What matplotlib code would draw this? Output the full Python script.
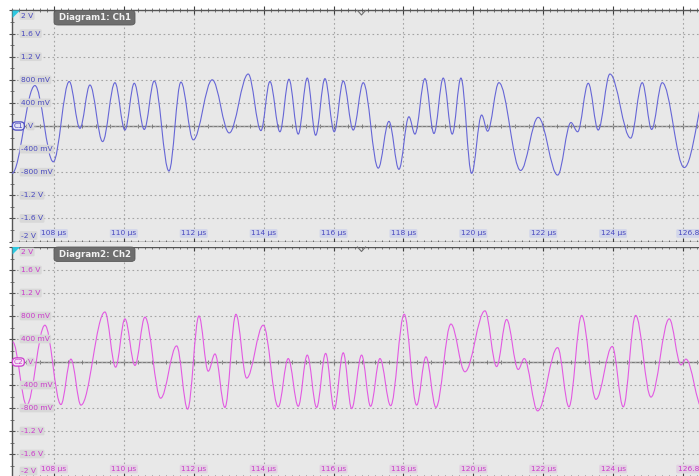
import matplotlib
matplotlib.use("Agg")
import matplotlib.pyplot as plt
from matplotlib.path import Path
from matplotlib.patches import PathPatch, Polygon, FancyBboxPatch, Rectangle
from matplotlib.ticker import MultipleLocator

# ---------------- data ----------------
# Channel 1: extrema of the waveform (time in µs, voltage in V)
ch1_t = [106.80, 107.456, 107.98, 108.438, 108.744, 109.030, 109.393, 109.745, 110.031,
         110.298, 110.584, 110.870, 111.290, 111.634, 111.986, 112.529, 113.016, 113.559,
         113.923, 114.180, 114.466, 114.724, 114.990, 115.248, 115.488, 115.754, 116.020,
         116.278, 116.564, 116.850, 117.279, 117.585, 117.871, 118.157, 118.329, 118.615,
         118.873, 119.139, 119.396, 119.645, 119.951, 120.237, 120.409, 120.732, 121.353,
         121.857, 122.412, 122.793, 122.984, 123.288, 123.573, 123.908, 124.501, 124.833,
         125.102, 125.405, 126.034, 126.75]
ch1_v = [-0.82, 0.70, -0.62, 0.77, -0.04, 0.71, -0.27, 0.75, -0.07,
         0.74, -0.06, 0.78, -0.78, 0.76, -0.24, 0.80, -0.12, 0.90,
         -0.08, 0.77, -0.10, 0.81, -0.14, 0.83, -0.16, 0.82, -0.10,
         0.78, -0.07, 0.75, -0.73, 0.08, -0.75, 0.16, -0.14, 0.82,
         -0.13, 0.83, -0.14, 0.83, -0.82, 0.19, -0.09, 0.75, -0.77,
         0.15, -0.85, 0.06, -0.10, 0.74, -0.07, 0.90, -0.21, 0.75,
         -0.06, 0.75, -0.72, 0.75]

# Channel 2: extrema of the waveform
ch2_t = [106.82, 107.219, 107.742, 108.200, 108.486, 108.773, 109.459, 109.765, 110.031,
         110.318, 110.604, 111.053, 111.511, 111.825, 112.149, 112.415, 112.607, 112.893,
         113.207, 113.514, 113.989, 114.418, 114.704, 114.990, 115.248, 115.516, 115.774,
         116.020, 116.278, 116.518, 116.803, 117.060, 117.328, 117.634, 118.023, 118.378,
         118.644, 118.930, 119.359, 119.760, 120.332, 120.667, 120.952, 121.285, 121.456,
         121.840, 122.412, 122.735, 123.099, 123.508, 123.974, 124.289, 124.644, 125.082,
         125.605, 125.940, 126.083, 126.55]
ch2_v = [0.35, -0.75, 0.64, -0.74, 0.05, -0.75, 0.87, -0.09, 0.75,
         -0.06, 0.78, -0.63, 0.28, -0.82, 0.80, -0.16, 0.14, -0.79,
         0.83, -0.28, 0.64, -0.78, 0.06, -0.77, 0.12, -0.79, 0.15,
         -0.82, 0.16, -0.81, 0.12, -0.77, 0.06, -0.76, 0.83, -0.75,
         0.09, -0.79, 0.66, -0.17, 0.89, -0.08, 0.74, -0.13, 0.06,
         -0.85, 0.25, -0.78, 0.81, -0.65, 0.27, -0.78, 0.81, -0.61,
         0.75, -0.05, 0.05, -0.80]

y_ticks = [2.0, 1.6, 1.2, 0.8, 0.4, 0.0, -0.4, -0.8, -1.2, -1.6, -2.0]
y_labels = ["2 V", "1.6 V", "1.2 V", "800 mV", "400 mV", "V", "-400 mV", "-800 mV",
            "-1.2 V", "-1.6 V", "-2 V"]
x_ticks = [108, 110, 112, 114, 116, 118, 120, 122, 124]
x_labels = ["108 µs", "110 µs", "112 µs", "114 µs", "116 µs", "118 µs", "120 µs",
            "122 µs", "124 µs"]
x_end_label = "126.8 µs"
t_range = (106.8, 126.8)
trigger_t = 116.8
titles = ["Diagram1: Ch1", "Diagram2: Ch2"]
markers = ["C1", "C2"]

# ---------------- styling ----------------
W, H = 699, 476
DPI = 100
BG = "#e8e8e8"
line_cols = ["#6666d6", "#e25ae2"]
text_cols = ["#4a4ac0", "#cc3ccc"]
xlab_box = ["#d2d6ea", "#e2d2e2"]

fig = plt.figure(figsize=(W / DPI, H / DPI), dpi=DPI, facecolor="white")


def fx(x):
    return x / W


def fy(y):
    return 1 - y / H


# gray strip between the two panels
fig.patches.append(Rectangle((fx(12), fy(247)), fx(699 - 12), 5.5 / H,
                             transform=fig.transFigure, facecolor=BG,
                             edgecolor="none", zorder=0))

panels = [(10.5, 241.5), (247.0, 477.0)]
series = [(ch1_t, ch1_v), (ch2_t, ch2_v)]


def wave_path(ts, vs, k=0.36):
    verts = [(ts[0], vs[0])]
    codes = [Path.MOVETO]
    for i in range(len(ts) - 1):
        dt = ts[i + 1] - ts[i]
        verts += [(ts[i] + k * dt, vs[i]), (ts[i + 1] - k * dt, vs[i + 1]),
                  (ts[i + 1], vs[i + 1])]
        codes += [Path.CURVE4] * 3
    return Path(verts, codes)


for idx, (ytop, ybot) in enumerate(panels):
    left_px, right_px = 12, 12 + 699
    ax = fig.add_axes([fx(left_px), fy(ybot), (right_px - left_px) / W, (ybot - ytop) / H])
    ax.set_facecolor(BG)
    ax.set_xlim(*t_range)
    ax.set_ylim(-2, 2)

    # grid
    ax.xaxis.set_major_locator(MultipleLocator(2))
    ax.xaxis.set_minor_locator(MultipleLocator(0.2))
    ax.yaxis.set_major_locator(MultipleLocator(0.4))
    ax.yaxis.set_minor_locator(MultipleLocator(0.2))
    ax.grid(True, which="major", color="#a4a4a4", linestyle=(0, (1.5, 2.5)), linewidth=0.8)
    ax.set_axisbelow(True)
    ax.xaxis.set_ticks_position("both")
    ax.tick_params(axis="x", which="major", direction="inout", length=6, width=0.8,
                   color="#404040", labelbottom=False, labeltop=False)
    ax.tick_params(axis="x", which="minor", direction="inout", length=2.5, width=0.6,
                   color="#606060")
    ax.tick_params(axis="y", which="major", direction="inout", length=5, width=0.8,
                   color="#505050", labelleft=False)
    ax.tick_params(axis="y", which="minor", direction="inout", length=3, width=0.6,
                   color="#606060")
    ax.spines["right"].set_visible(False)
    ax.spines["top"].set_color("#555555")
    ax.spines["left"].set_color("#555555")
    ax.spines["bottom"].set_color("#303030")
    for s in ["top", "left", "bottom"]:
        ax.spines[s].set_linewidth(1.0)

    # zero axis line with ticks
    sec = ax.secondary_xaxis(0.5)
    sec.xaxis.set_major_locator(MultipleLocator(2))
    sec.xaxis.set_minor_locator(MultipleLocator(0.4))
    sec.tick_params(which="major", direction="inout", length=5, width=0.8, color="#707070",
                    labelbottom=False, labeltop=False)
    sec.tick_params(which="minor", direction="inout", length=3, width=0.6, color="#707070")
    for s in sec.spines.values():
        s.set_color("#7a7a7a")
        s.set_linewidth(1.0)

    # waveform
    ts, vs = series[idx]
    ax.add_patch(PathPatch(wave_path(ts, vs), fill=False, edgecolor=line_cols[idx],
                           linewidth=0.8, transform=ax.transData, zorder=3))

    # y labels
    for v, lab in zip(y_ticks, y_labels):
        dy = 0
        va = "center"
        if v == 2.0:
            va, dy = "top", -2
        elif v == -2.0:
            va, dy = "bottom", 3
        xoff = 16 if lab == "V" else 9
        ax.annotate(lab, xy=(0, v), xycoords=("axes fraction", "data"),
                    xytext=(xoff, dy), textcoords="offset pixels", ha="left", va=va,
                    fontsize=5.4, color=text_cols[idx], zorder=5, annotation_clip=False,
                    bbox=dict(boxstyle="round,pad=0.18", fc="#d8d8d8", ec="none"))
    # x labels
    for t, lab in zip(x_ticks, x_labels):
        ax.annotate(lab, xy=(t, 0), xycoords=("data", "axes fraction"),
                    xytext=(0, 8), textcoords="offset pixels", ha="center", va="center",
                    fontsize=5.4, color=text_cols[idx], zorder=5,
                    bbox=dict(boxstyle="round,pad=0.18", fc=xlab_box[idx], ec="none"))
    ax.annotate(x_end_label, xy=(t_range[1], 0), xycoords=("data", "axes fraction"),
                xytext=(-1, 8), textcoords="offset pixels", ha="right", va="center",
                fontsize=5.4, color=text_cols[idx], zorder=5, annotation_clip=False,
                bbox=dict(boxstyle="round,pad=0.18", fc=xlab_box[idx], ec="none"))

    # channel marker on zero line
    ax.annotate(markers[idx], xy=(0, 0), xycoords=("axes fraction", "data"),
                xytext=(1.5, 0), textcoords="offset pixels", ha="left", va="center",
                fontsize=5.3, color=text_cols[idx], zorder=6, annotation_clip=False,
                bbox=dict(boxstyle="round,pad=0.15,rounding_size=0.5",
                          fc="#e4e4f4" if idx == 0 else "#f4e4f4",
                          ec=text_cols[idx], lw=0.9))

    # title tab
    tab = FancyBboxPatch((fx(54), fy(ytop + 14.5)), fx(135 - 54), 14.5 / H,
                         boxstyle="round,pad=0,rounding_size=0.006",
                         transform=fig.transFigure, facecolor="#6e6e6e",
                         edgecolor="#5a5a5a", linewidth=0.6, zorder=10)
    fig.patches.append(tab)
    fig.text(fx(94.5), fy(ytop + 7.5), titles[idx], ha="center", va="center",
             fontsize=6.2, fontweight="bold", color="#f2f2f2", zorder=11,
             family="DejaVu Sans")

    # cyan corner triangle
    fig.patches.append(Polygon([(fx(12.5), fy(ytop)), (fx(20), fy(ytop)), (fx(12.5), fy(ytop + 7.5))],
                               closed=True, transform=fig.transFigure, facecolor="#2ec8e0",
                               edgecolor="none", zorder=10))
    # trigger marker
    tx = ax.transData.transform((trigger_t, 0))[0] / W
    fig.lines.append(plt.Line2D([tx - fx(4), tx, tx + fx(4)],
                                [fy(ytop), fy(ytop + 4.5), fy(ytop)],
                                transform=fig.transFigure, color="#707070", lw=0.8, zorder=10))

fig.savefig("out.png", dpi=DPI, facecolor="white")
